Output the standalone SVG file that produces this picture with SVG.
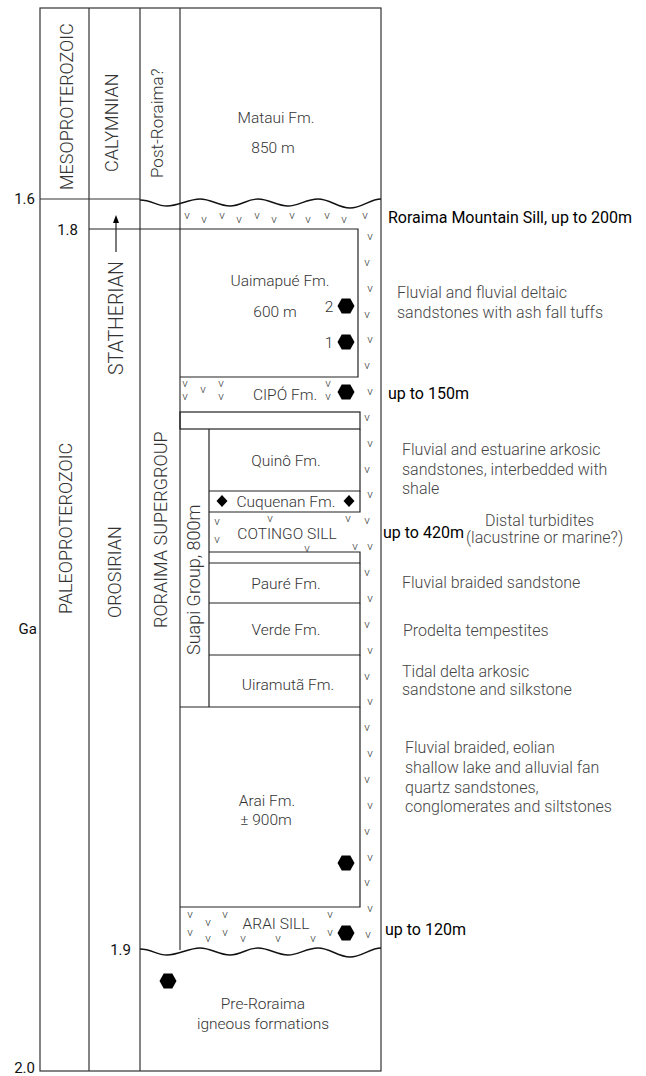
<svg xmlns="http://www.w3.org/2000/svg" xmlns:xlink="http://www.w3.org/1999/xlink" width="646" height="1076" viewBox="0 0 646 1076">
<style>
.ln{fill:none;stroke:#333;stroke-width:1.2}
.bx{fill:none;stroke:#222;stroke-width:1.2}
.wv{fill:none;stroke:#111;stroke-width:1.4}
.t{font-family:Roboto,"Liberation Sans",sans-serif;font-weight:300;font-size:15.5px;fill:#333;text-anchor:middle}
.r{font-family:Roboto,"Liberation Sans",sans-serif;font-weight:300;font-size:18px;fill:#333}
.d{font-family:Roboto,"Liberation Sans",sans-serif;font-weight:300;font-size:16px;fill:#444}
.k{font-family:Roboto,"Liberation Sans",sans-serif;font-weight:400;font-size:16px;fill:#000}
.n{font-family:Roboto,"Liberation Sans",sans-serif;font-weight:400;font-size:15px;fill:#111;text-anchor:end}
.v{font-family:Roboto,"Liberation Sans",sans-serif;font-weight:300;font-size:11.5px;fill:#333;text-anchor:middle}
.sym{fill:#000}
</style>
<defs>
<path id="hex" d="M-8.5,0 L-4.3,-7.4 L4.3,-7.4 L8.5,0 L4.3,7.4 L-4.3,7.4Z"/>
<path id="dia" d="M0,-6 L5.5,0 L0,6 L-5.5,0Z"/>
<path id="wave" d="M140,200 C152,200 156,206 167,206 S189,199 200,199 S219,206 230,206 S247,199 258,199 S277,206 288,206 S306,199 318,199 S338,208 350,208 S370,199 381,199"/>
</defs>

<g id="frame">
<rect class="ln" x="40" y="8" width="341" height="1063"/>
<line class="ln" x1="89" y1="8" x2="89" y2="1071"/>
<line class="ln" x1="140" y1="8" x2="140" y2="1071"/>
<line class="ln" x1="180" y1="8" x2="180" y2="950"/>
<line class="ln" x1="40" y1="199" x2="140" y2="199"/>
<line class="bx" x1="89" y1="229" x2="180" y2="229"/>
</g>

<g id="axis-labels">
<text class="n" x="35" y="204">1.6</text>
<text class="n" x="78" y="235">1.8</text>
<text class="n" x="131" y="955">1.9</text>
<text class="n" x="35" y="1073">2.0</text>
<text class="n" x="37" y="634">Ga</text>
</g>

<g id="era-labels">
<text class="r" transform="translate(72.5,190) rotate(-90)">MESOPROTEROZOIC</text>
<text class="r" transform="translate(118,172) rotate(-90)">CALYMNIAN</text>
<text class="r" style="font-size:17px" transform="translate(163,178) rotate(-90)">Post-Roraima?</text>
<text class="r" style="font-size:19.5px" transform="translate(122.5,375) rotate(-90)">STATHERIAN</text>
<text class="r" transform="translate(72,614) rotate(-90)">PALEOPROTEROZOIC</text>
<text class="r" transform="translate(121,618) rotate(-90)">OROSIRIAN</text>
<text class="r" transform="translate(167,628) rotate(-90)">RORAIMA SUPERGROUP</text>
</g>

<g id="connectors">
<line class="bx" x1="116" y1="252" x2="116" y2="222"/>
<polygon class="sym" points="116,215 113,223 119,223"/>
</g>

<g id="unconformity-top">
<use xlink:href="#wave" class="wv"/>
</g>

<g id="mataui">
<text class="t" x="276" y="123">Mataui Fm.</text>
<text class="t" x="273" y="153">850 m</text>
</g>

<g id="roraima-mountain-sill">
<text class="v" x="187" y="219">v</text><text class="v" x="204" y="223">v</text>
<text class="v" x="222" y="219">v</text><text class="v" x="239" y="223">v</text>
<text class="v" x="257" y="219">v</text><text class="v" x="274" y="223">v</text>
<text class="v" x="292" y="219">v</text><text class="v" x="308" y="223">v</text>
<text class="v" x="327" y="219">v</text><text class="v" x="344" y="223">v</text>
<text class="v" x="365" y="219">v</text>
<text class="v" x="370" y="240">v</text><text class="v" x="367" y="266">v</text>
<text class="v" x="370" y="292">v</text><text class="v" x="367" y="318">v</text>
<text class="v" x="370" y="343">v</text><text class="v" x="367" y="369">v</text>
<text class="v" x="370" y="395">v</text><text class="v" x="367" y="421">v</text>
<text class="v" x="370" y="447">v</text><text class="v" x="367" y="473">v</text>
<text class="v" x="370" y="498">v</text><text class="v" x="367" y="524">v</text>
<text class="v" x="370" y="550">v</text><text class="v" x="367" y="576">v</text>
<text class="v" x="370" y="602">v</text><text class="v" x="367" y="628">v</text>
<text class="v" x="370" y="654">v</text><text class="v" x="367" y="680">v</text>
<text class="v" x="370" y="705">v</text><text class="v" x="367" y="731">v</text>
<text class="v" x="370" y="757">v</text><text class="v" x="367" y="783">v</text>
<text class="v" x="370" y="809">v</text><text class="v" x="367" y="835">v</text>
<text class="v" x="370" y="861">v</text><text class="v" x="367" y="886">v</text>
<text class="v" x="370" y="912">v</text><text class="v" x="368" y="938">v</text>
<text class="k" x="388" y="223">Roraima Mountain Sill, up to 200m</text>
</g>

<g id="uaimapue">
<path class="bx" d="M180,229 H358 V377 H180"/>
<text class="t" x="280" y="286">Uaimapué Fm.</text>
<text class="t" x="275" y="317">600 m</text>
<text class="t" x="329" y="312">2</text>
<text class="t" x="329" y="348">1</text>
<use xlink:href="#hex" class="sym" x="346" y="306"/>
<use xlink:href="#hex" class="sym" x="346" y="342"/>
<text class="d" x="397" y="298">Fluvial and fluvial deltaic</text>
<text class="d" x="397" y="318">sandstones with ash fall tuffs</text>
</g>

<g id="cipo">
<text class="v"><tspan x="185" y="387">v</tspan><tspan x="185" y="400">v</tspan></text>
<text class="v" x="203" y="393">v</text>
<text class="v"><tspan x="221" y="387">v</tspan><tspan x="221" y="400">v</tspan></text>
<text class="v"><tspan x="328" y="387">v</tspan><tspan x="328" y="400">v</tspan></text>
<text class="t" x="285" y="400">CIPÓ Fm.</text>
<use xlink:href="#hex" class="sym" x="346" y="392"/>
<text class="k" x="388" y="399">up to 150m</text>
</g>

<g id="unnamed-layer">
<rect class="bx" x="180" y="412" width="180" height="17"/>
</g>

<g id="suapi-group">
<line class="bx" x1="209" y1="429" x2="209" y2="707"/>
<text class="r" transform="translate(200,655) rotate(-90)">Suapi Group, 800m</text>
</g>

<g id="quino">
<path class="bx" d="M209,491 H360 V429"/>
<text class="t" x="286" y="466">Quinô Fm.</text>
<text class="d" x="402" y="455">Fluvial and estuarine arkosic</text>
<text class="d" x="402" y="475">sandstones, interbedded with</text>
<text class="d" x="402" y="494">shale</text>
</g>

<g id="cuquenan">
<path class="bx" d="M209,512 H360 V491"/>
<use xlink:href="#dia" class="sym" x="222" y="501"/>
<use xlink:href="#dia" class="sym" x="349" y="501"/>
<text class="t" x="286" y="507">Cuquenan Fm.</text>
</g>

<g id="cotingo-sill">
<text class="v" x="217" y="525">v</text><text class="v" x="217" y="543">v</text>
<text class="v" x="270" y="522">v</text><text class="v" x="348" y="522">v</text>
<text class="v" x="307" y="552">v</text><text class="v" x="355" y="550">v</text>
<text class="t" x="287" y="539">COTINGO SILL</text>
<text class="k" x="383" y="538">up to 420m</text>
<text class="d" x="485" y="526">Distal turbidites</text>
<text class="d" x="466" y="543">(lacustrine or marine?)</text>
</g>

<g id="thin-layer">
<path class="bx" d="M209,552 H360 V563 H209"/>
</g>

<g id="paure">
<path class="bx" d="M360,563 V603 H209"/>
<text class="t" x="286" y="589">Pauré Fm.</text>
<text class="d" x="402" y="588">Fluvial braided  sandstone</text>
</g>

<g id="verde">
<path class="bx" d="M360,603 V655 H209"/>
<text class="t" x="286" y="635">Verde Fm.</text>
<text class="d" x="403" y="636">Prodelta tempestites</text>
</g>

<g id="uiramuta">
<path class="bx" d="M360,655 V707 H180"/>
<text class="t" x="288" y="690">Uiramutã Fm.</text>
<text class="d" x="402" y="677">Tidal delta arkosic</text>
<text class="d" x="402" y="695">sandstone and silkstone</text>
</g>

<g id="arai">
<path class="bx" d="M360,707 V907 H180"/>
<text class="t" x="267" y="806">Arai Fm.</text>
<text class="t" x="266" y="825">± 900m</text>
<use xlink:href="#hex" class="sym" x="346" y="863"/>
<text class="d" x="405" y="753">Fluvial braided, eolian</text>
<text class="d" x="405" y="773">shallow lake and alluvial fan</text>
<text class="d" x="405" y="793">quartz sandstones,</text>
<text class="d" x="405" y="812">conglomerates and siltstones</text>
</g>

<g id="arai-sill">
<text class="v"><tspan x="190" y="918">v</tspan><tspan x="190" y="936">v</tspan></text>
<text class="v"><tspan x="208" y="926">v</tspan><tspan x="208" y="942">v</tspan></text>
<text class="v"><tspan x="225" y="918">v</tspan><tspan x="225" y="936">v</tspan></text>
<text class="v"><tspan x="330" y="918">v</tspan><tspan x="330" y="936">v</tspan></text>
<text class="v" x="243" y="942">v</text><text class="v" x="278" y="942">v</text><text class="v" x="313" y="942">v</text>
<text class="t" x="276" y="929">ARAI SILL</text>
<use xlink:href="#hex" class="sym" x="346" y="933"/>
<text class="k" x="385" y="935">up to 120m</text>
</g>

<g id="unconformity-bottom">
<use xlink:href="#wave" class="wv" transform="translate(0,749)"/>
</g>

<g id="pre-roraima">
<use xlink:href="#hex" class="sym" x="168" y="981"/>
<text class="t" x="263" y="1009">Pre-Roraima</text>
<text class="t" x="263" y="1029">igneous formations</text>
</g>
</svg>
